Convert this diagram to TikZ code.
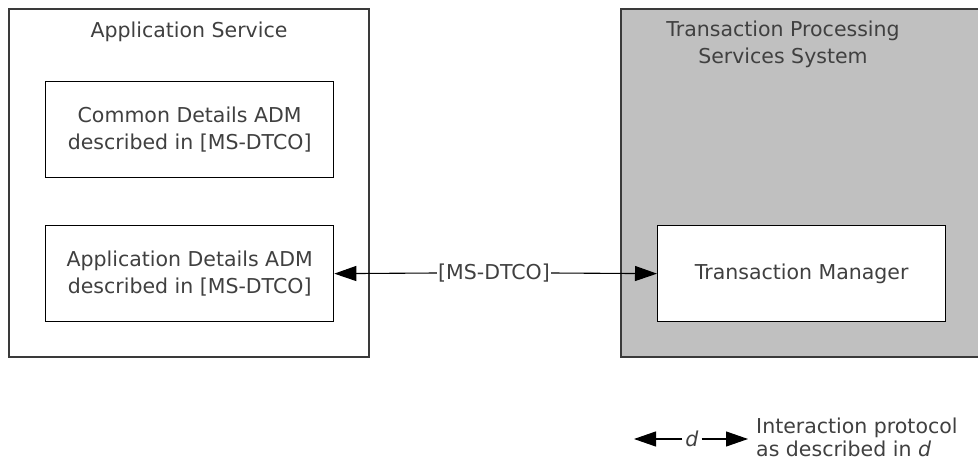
\documentclass[tikz,border=0pt]{standalone}
\usepackage{fontspec}
\setmainfont{DejaVu Sans}
\usetikzlibrary{arrows.meta}
\definecolor{edge}{HTML}{3A3A3A}
\definecolor{txt}{HTML}{404040}
\definecolor{tps}{HTML}{C0C0C0}
\begin{document}
\begin{tikzpicture}[x=1pt,y=-1pt,
  frame/.style={draw=edge,line width=1.6pt},
  inbox/.style={draw=black,line width=1.3pt,fill=white,minimum width=288pt,minimum height=96pt,anchor=north west,inner sep=0pt,text=txt,align=center,font=\fontsize{20.5}{27}\selectfont},
  lbl/.style={text=txt,align=center,font=\fontsize{20.5}{27}\selectfont},
  conn/.style={line width=1.1pt,-{Triangle[length=22pt,width=15pt]}}]
\useasboundingbox (0,0) rectangle (978,462);
\fill[white] (0,0) rectangle (978,462);
% outer boxes
\draw[frame] (9,9) rectangle (369,357);
\node[lbl] (as) at (189,32) {Application Service};
\draw[frame,fill=tps] (621,9) rectangle (985,357);
\node[lbl] (tps) at (783,44) {Transaction Processing\\Services System};
% inner boxes
\node[inbox] (cd) at (45,81) {Common Details ADM\\described in [MS-DTCO]};
\node[inbox] (ad) at (45,225) {Application Details ADM\\described in [MS-DTCO]};
\node[inbox] (tm) at (657,225) {Transaction Manager};
% connector
\node[lbl,fill=white,inner sep=1pt] (ms) at (494,273) {[MS-DTCO]};
\draw[conn] (ms.west) -- (ad.east);
\draw[conn] (ms.east) -- (tm.west);
% legend
\node[text=txt,font=\fontsize{20.5}{27}\selectfont\itshape,inner sep=3pt] (d) at (692,439) {d};
\coordinate (la) at (634,439);
\coordinate (lb) at (748,439);
\draw[conn] (d.west) -- (la);
\draw[conn] (d.east) -- (lb);
\node[lbl,align=left,anchor=west,inner sep=0pt,font=\fontsize{20.5}{23}\selectfont] (lt) at (756,437) {Interaction protocol\\as described in \textit{d}};
\end{tikzpicture}
\end{document}
